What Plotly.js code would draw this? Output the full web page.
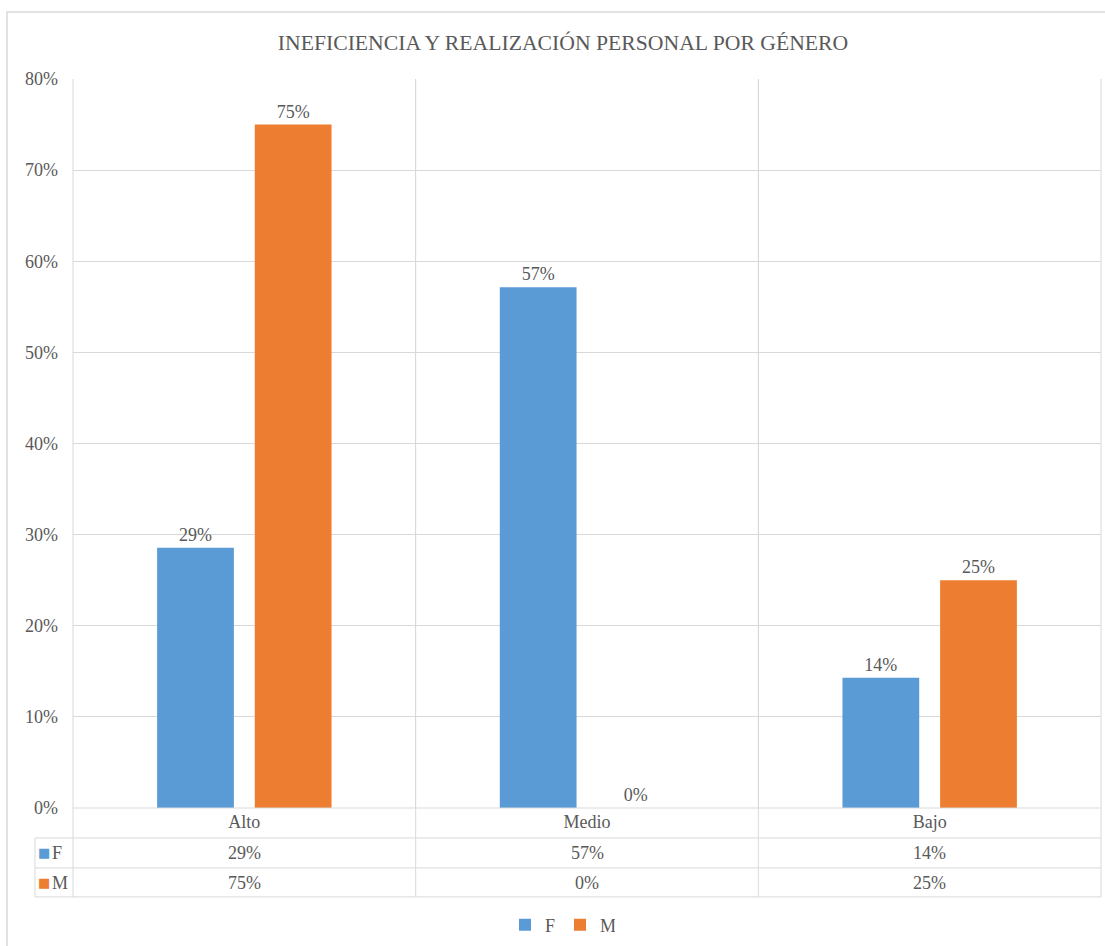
<!DOCTYPE html>
<html><head><meta charset="utf-8">
<script src="https://cdn.plot.ly/plotly-3.0.1.min.js"></script>
<style>html,body{margin:0;padding:0;background:#fff}</style>
</head><body><div id="chart" style="width:1105px;height:946px"></div>
<script>
const categories = ["Alto", "Medio", "Bajo"];
const seriesNames = ["F", "M"];
const valuesF = [0.2857, 0.5714, 0.1429];
const valuesM = [0.75, 0, 0.25];
const yTicks = [0, 0.1, 0.2, 0.3, 0.4, 0.5, 0.6, 0.7, 0.8];
const titleText = "INEFICIENCIA Y REALIZACIÓN PERSONAL POR GÉNERO";

const W = 1105, H = 946;
const L = 73, R = 1101, T = 79, B = 809;
const px = x => (x - L) / (R - L);
const py = y => (B - y) / (B - T);
const colors = ["#5B9BD5", "#ED7D31"];
const gray = "#595959";
const lineCol = "#D9D9D9";
const font = "Liberation Serif";

const allVals = [valuesF, valuesM];
const traces = seriesNames.map((n, i) => ({
  type: "bar", name: n, x: categories, y: allVals[i],
  marker: {color: colors[i]},
  text: allVals[i].map(v => Math.round(v * 100) + "%"),
  texttemplate: "%{text}",
  textposition: "outside", cliponaxis: false,
  textfont: {family: font, size: 18, color: gray},
  hoverinfo: "skip"
}));

const shapes = [];
const line = (x0, y0, x1, y1) => shapes.push({type: "line", xref: "paper", yref: "paper",
  x0: px(x0), y0: py(y0), x1: px(x1), y1: py(y1), line: {color: lineCol, width: 1}});
line(L, 809, R, 809);
line(35, 839, R, 839);
line(35, 869, R, 869);
line(35, 898, R, 898);
line(35, 839, 35, 898);
line(L, T, L, 898);
const colW = (R - L) / categories.length;
for (let i = 1; i <= categories.length; i++) line(L + colW * i, T, L + colW * i, 898);
shapes.push({type: "rect", xref: "paper", yref: "paper", x0: px(7), y0: py(960), x1: px(1112), y1: py(12),
  line: {color: "#D9D9D9", width: 1.5}, fillcolor: "rgba(0,0,0,0)", layer: "below"});

const annotations = [];
const rowsY = [854, 884];
allVals.forEach((vals, s) => {
  annotations.push({xref: "paper", yref: "paper", x: px(44), y: py(rowsY[s]), xanchor: "center", yanchor: "middle",
    text: "■", showarrow: false, font: {family: "DejaVu Sans", size: 13, color: colors[s]}});
  annotations.push({xref: "paper", yref: "paper", x: px(50), y: py(rowsY[s]), xanchor: "left", yanchor: "middle",
    text: seriesNames[s], showarrow: false, font: {family: font, size: 18, color: gray}});
  vals.forEach((v, c) => {
    annotations.push({xref: "x", yref: "paper", x: categories[c], y: py(rowsY[s]), xanchor: "center", yanchor: "middle",
      text: Math.round(v * 100) + "%", showarrow: false, font: {family: font, size: 18, color: gray}});
  });
});

const layout = {
  width: W, height: H,
  margin: {l: L, r: W - R, t: T, b: H - B},
  paper_bgcolor: "#fff", plot_bgcolor: "#fff",
  title: {text: titleText, x: 563 / W, xanchor: "center", y: 1 - 42 / H, yanchor: "middle",
    font: {family: font, size: 21.7, color: gray}},
  barmode: "group", bargap: 0.43, bargroupgap: 0.214,
  xaxis: {type: "category", categoryorder: "array", categoryarray: categories,
    tickson: "boundaries", ticks: "", showgrid: true, gridcolor: lineCol, showline: false, zeroline: false,
    tickfont: {family: font, size: 18, color: gray}, ticklabelstandoff: 1, fixedrange: true},
  yaxis: {range: [0, 0.8], tickvals: yTicks, tickformat: ".0%", showgrid: true, gridcolor: lineCol,
    zeroline: false, showline: false, ticks: "", ticklabelstandoff: 14,
    tickfont: {family: font, size: 18, color: gray}, fixedrange: true},
  showlegend: true,
  legend: {orientation: "h", x: px(560), xanchor: "center", y: py(925), yanchor: "middle",
    font: {family: font, size: 18, color: gray}, itemwidth: 30, entrywidth: 10, entrywidthmode: "pixels",
    traceorder: "normal"},
  shapes: shapes, annotations: annotations
};
Plotly.newPlot("chart", traces, layout, {displayModeBar: false, staticPlot: true});
</script></body></html>
